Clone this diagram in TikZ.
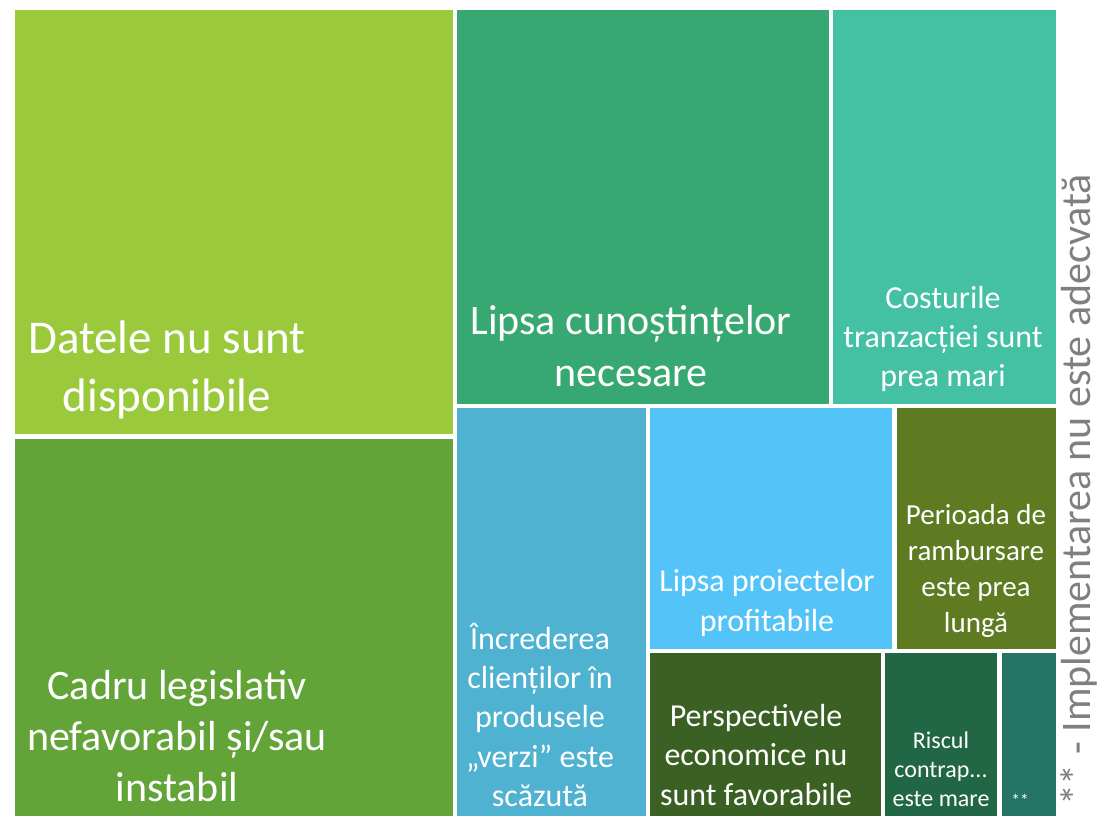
\documentclass[tikz,border=0pt]{standalone}
\usepackage{fontspec}
\setmainfont{Carlito}
\definecolor{cDatele}{HTML}{9ACA3C}
\definecolor{cCadru}{HTML}{62A437}
\definecolor{cCunostinte}{HTML}{38A872}
\definecolor{cCosturi}{HTML}{44C1A3}
\definecolor{cIncredere}{HTML}{4FB2D1}
\definecolor{cProiecte}{HTML}{53C3F8}
\definecolor{cPerioada}{HTML}{5E7B22}
\definecolor{cPerspective}{HTML}{3B6023}
\definecolor{cRisc}{HTML}{216645}
\definecolor{cImpl}{HTML}{247566}
\definecolor{cNota}{HTML}{7F7F7F}
\tikzset{
    celltext/.style={text=white, align=center, inner sep=0pt},
}
\begin{document}
\begin{tikzpicture}[x=0.75pt, y=-0.75pt]
            \useasboundingbox (0,0) rectangle (1099,816);
            % cells of the treemap
            \fill[cDatele] (15,10) rectangle (453,434);
            \fill[cCadru] (15,439) rectangle (453,816);
            \fill[cCunostinte] (457,10) rectangle (829,404);
            \fill[cCosturi] (833,10) rectangle (1056,404);
            \fill[cIncredere] (457,408) rectangle (646,816);
            \fill[cProiecte] (650,408) rectangle (892,649);
            \fill[cPerioada] (897,408) rectangle (1056,649);
            \fill[cPerspective] (650,653) rectangle (881,816);
            \fill[cRisc] (885,653) rectangle (997,816);
            \fill[cImpl] (1002,653) rectangle (1056,816);
            % labels
            \node[celltext, font=\fontsize{35.25}{43.5}\selectfont] (datele) at (167,370) {Datele nu sunt\\disponibile};
            \node[celltext, font=\fontsize{31.5}{38.4}\selectfont] (cadru) at (177,736) {Cadru legislativ\\nefavorabil și/sau\\instabil};
            \node[celltext, font=\fontsize{31.5}{39.6}\selectfont] (cunostinte) at (631,346) {Lipsa cunoștințelor\\necesare};
            \node[celltext, font=\fontsize{24}{29.6}\selectfont] (costuri) at (943,339) {Costurile\\tranzacției sunt\\prea mari};
            \node[celltext, font=\fontsize{24}{29.6}\selectfont] (incredere) at (540,715) {Încrederea\\clienților în\\produsele\\„verzi” este\\scăzută};
            \node[celltext, font=\fontsize{24}{29.6}\selectfont] (proiecte) at (767,603) {Lipsa proiectelor\\profitabile};
            \node[celltext, font=\fontsize{21.75}{27.2}\selectfont] (perioada) at (976,571) {Perioada de\\rambursare\\este prea\\lungă};
            \node[celltext, font=\fontsize{24}{29.4}\selectfont] (perspective) at (756,755) {Perspectivele\\economice nu\\sunt favorabile};
            \node[celltext, font=\fontsize{18}{21.8}\selectfont] (risc) at (941,769) {Riscul\\contrap...\\este mare};
            \node[celltext, font=\fontsize{13}{14}\selectfont] (impl) at (1020,800) {**};
            \node[rotate=90, text=cNota, inner sep=0pt, font=\fontsize{31.5}{38}\selectfont] (nota) at (1079,490) {** - Implementarea nu este adecvată};
\end{tikzpicture}
\end{document}
